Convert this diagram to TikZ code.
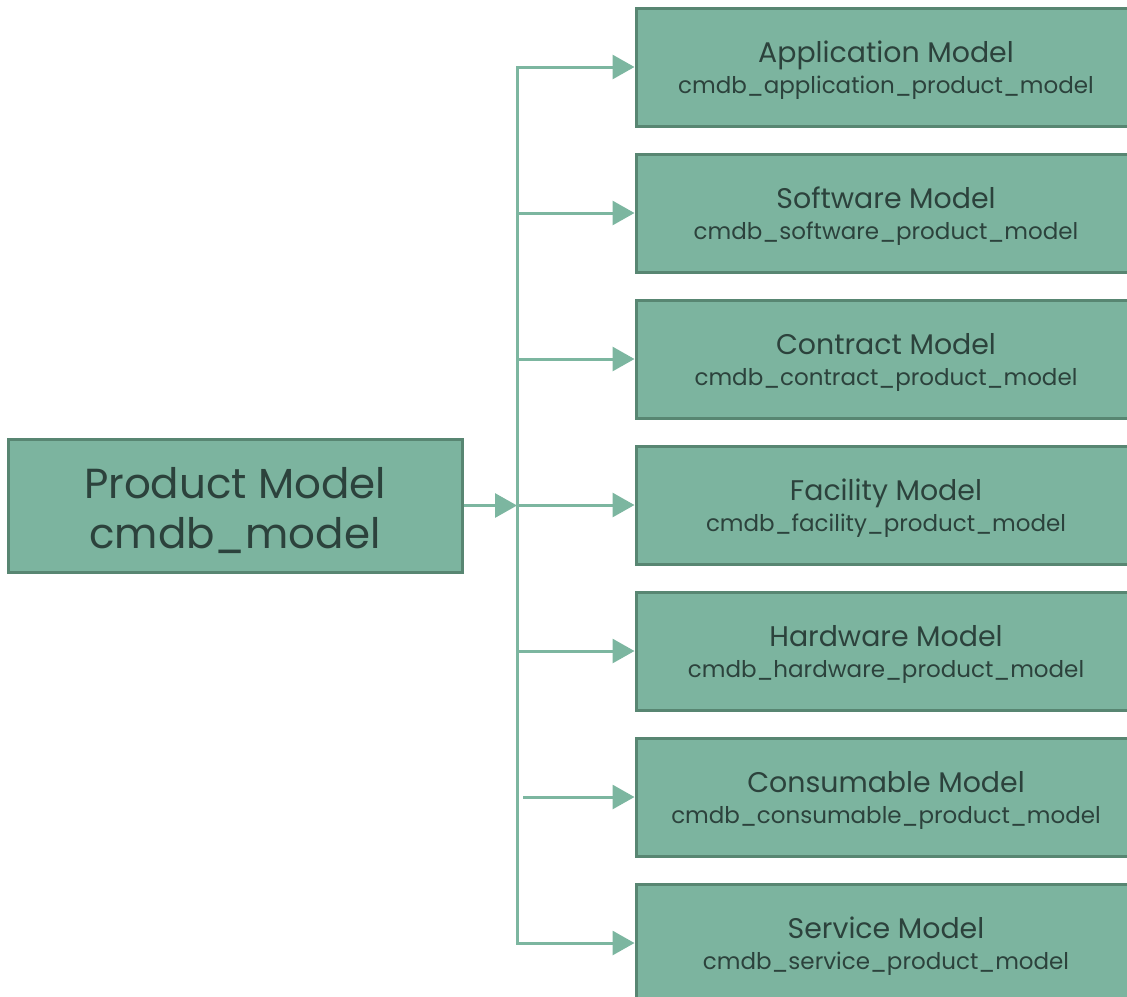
\documentclass[tikz,border=0pt]{standalone}
\usepackage{fontspec}
\setmainfont{Poppins}
\usetikzlibrary{arrows.meta,positioning}
\definecolor{cmdbfill}{RGB}{124,180,159}
\definecolor{cmdbdraw}{RGB}{88,134,114}
\definecolor{cmdbtext}{RGB}{44,66,60}
\definecolor{cmdbline}{RGB}{124,182,160}
\newcommand{\modeltext}[2]{\rule{0pt}{14pt}#1\\{\fontsize{11.5}{15.5}\selectfont #2}}

\begin{document}
\begin{tikzpicture}[x=0.5pt,y=-0.5pt,
    node distance=12.5pt,
    modelbox/.style={rectangle,draw=cmdbdraw,fill=cmdbfill,line width=1.5pt,
                     text=cmdbtext,align=center,inner sep=0pt,
                     font=\fontsize{14.2}{15.5}\selectfont,
                     minimum width=250pt,minimum height=59pt},
    link/.style={draw=cmdbline,line width=1.5pt},
    arr/.style={link,-{Triangle[length=11pt,width=12pt]}}]
  \useasboundingbox (0,0) rectangle (1127,996);

  % root
  \node[modelbox,minimum width=227pt,minimum height=66.5pt,
        font=\fontsize{21}{25}\selectfont] (prod) at (235,505.5)
    {\rule{0pt}{21pt}Product Model\\cmdb\_model};

  % product classes
  \node[modelbox] (app) at (886,67) {\modeltext{Application Model}{cmdb\_application\_product\_model}};
  \node[modelbox,below=of app] (sw) {\modeltext{Software Model}{cmdb\_software\_product\_model}};
  \node[modelbox,below=of sw] (con) {\modeltext{Contract Model}{cmdb\_contract\_product\_model}};
  \node[modelbox,below=of con] (fac) {\modeltext{Facility Model}{cmdb\_facility\_product\_model}};
  \node[modelbox,below=of fac] (hw) {\modeltext{Hardware Model}{cmdb\_hardware\_product\_model}};
  \node[modelbox,below=of hw] (cons) {\modeltext{Consumable Model}{cmdb\_consumable\_product\_model}};
  \node[modelbox,below=of cons] (svc) {\modeltext{Service Model}{cmdb\_service\_product\_model}};

  % connectors
  \coordinate (trunk) at (517,0);
  \draw[link,{Triangle[length=11pt,width=12pt]}-{Triangle[length=11pt,width=12pt]}]
    (app.west) -- (app.west -| trunk) -- (svc.west -| trunk) -- (svc.west);
  \draw[arr] (prod.east) -- (prod.east -| trunk);
  \foreach \n in {sw,con,fac,hw}
    \draw[arr] (\n.west -| trunk) -- (\n.west);
  \draw[arr] ([xshift=3pt]cons.west -| trunk) -- (cons.west);
\end{tikzpicture}
\end{document}
